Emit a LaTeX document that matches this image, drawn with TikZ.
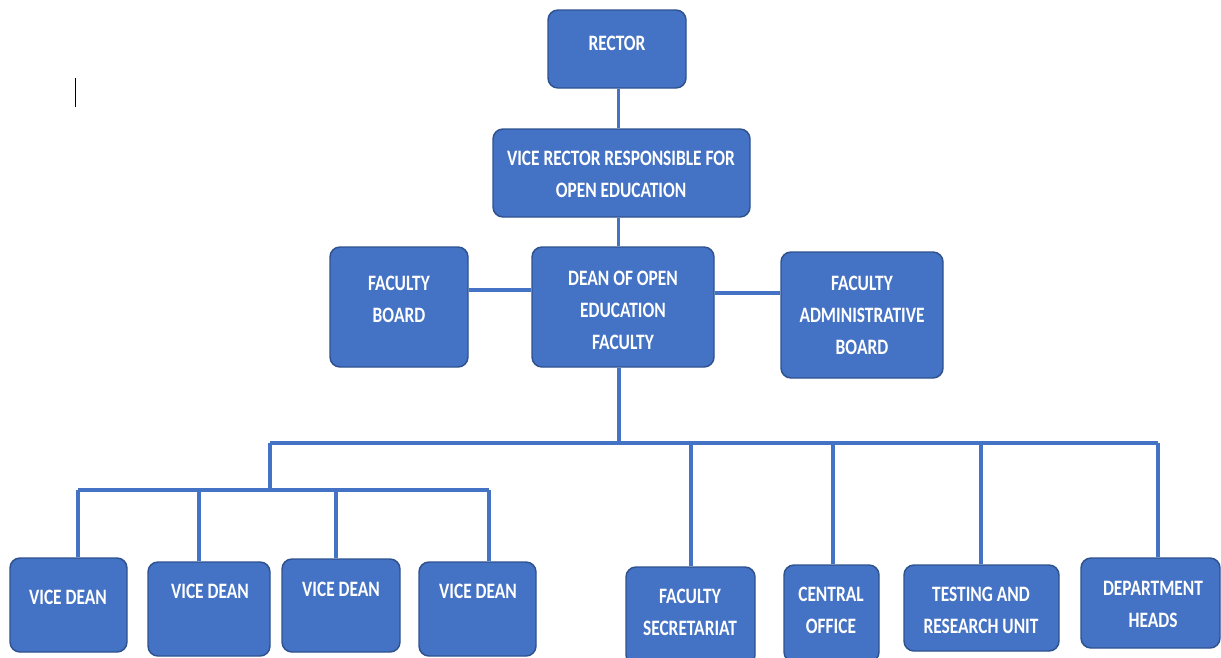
\documentclass[tikz,border=0pt]{standalone}
\usepackage{fontspec}
\setmainfont{Carlito}[FakeStretch=0.79]
\definecolor{fillblue}{HTML}{4472C4}
\definecolor{edgeblue}{HTML}{2F528F}
\pgfdeclarelayer{links}
\pgfsetlayers{links,main}
\tikzset{
  orgbox/.style={draw=edgeblue, line width=1.1pt, fill=fillblue,
    rounded corners=7.5pt, inner sep=0pt},
  orgtext/.style={text=white, font=\bfseries\fontsize{16.5}{24}\selectfont,
    align=center, inner sep=0pt},
  link/.style={draw=fillblue, line width=2.3pt},
}
% box: name, centre x, centre y, width, height (all in px units)
\newcommand{\orgunit}[5]{%
  \node[orgbox, minimum width=#4*0.75pt, minimum height=#5*0.75pt] (#1) at (#2,#3) {};}
\begin{document}
\begin{tikzpicture}[x=0.75pt, y=-0.75pt]
\useasboundingbox (0,0) rectangle (1221,657);
\clip (0,0) rectangle (1221,657);
\begin{pgfonlayer}{links}
\fill[white] (0,0) rectangle (1221,657);
\end{pgfonlayer}

% boxes
\orgunit{rector}{617}{49}{138}{78}
\orgunit{vr}{621.5}{173}{257}{88}
\orgunit{fb}{399}{307}{138}{120}
\orgunit{dean}{623}{307}{182}{120}
\orgunit{fab}{862}{315}{162}{126}
\orgunit{vd1}{68.5}{605}{117}{94}
\orgunit{vd2}{209}{609}{122}{94}
\orgunit{vd3}{341}{605.5}{118}{93}
\orgunit{vd4}{477.5}{609}{117}{94}
\orgunit{fs}{690.5}{616}{129}{98}
\orgunit{co}{831.5}{613.5}{95}{97}
\orgunit{tru}{981.5}{608}{155}{86}
\orgunit{dh}{1150.5}{603}{139}{90}

% junction points of the connector tree
\coordinate (spine) at (618.5,0);
\coordinate (lvl1) at (0,290);
\coordinate (lvl2) at (0,293);
\coordinate (hub) at (619,443);
\coordinate (busL) at (270,443);
\coordinate (busR) at (1158,443);
\coordinate (subL) at (78,490);
\coordinate (subR) at (489,490);
\coordinate (d2) at (199,490);
\coordinate (d3) at (336,490);
\coordinate (dfs) at (691,443);
\coordinate (dco) at (833,443);
\coordinate (dtru) at (981,443);

% connectors, kept behind the boxes
\begin{pgfonlayer}{links}
\draw[link] (spine |- rector.south) -- (spine |- vr.north);
\draw[link] (spine |- vr.south) -- (spine |- dean.north);
\draw[link] (fb.east |- lvl1) -- (dean.west |- lvl1);
\draw[link] (dean.east |- lvl2) -- (fab.west |- lvl2);
\draw[link] (hub |- dean.south) -- (hub);
\draw[link] (busL) -- (busR);
\draw[link] (busL) -- (busL |- subL);
\draw[link] (subL) -- (subR);
\draw[link] (subL) -- (subL |- vd1.north);
\draw[link] (d2) -- (d2 |- vd2.north);
\draw[link] (d3) -- (d3 |- vd3.north);
\draw[link] (subR) -- (subR |- vd4.north);
\draw[link] (dfs) -- (dfs |- fs.north);
\draw[link] (dco) -- (dco |- co.north);
\draw[link] (dtru) -- (dtru |- tru.north);
\draw[link] (busR) -- (busR |- dh.north);
\end{pgfonlayer}

% labels
\node[orgtext] (rectorT) at (617,43) {RECTOR};
\node[orgtext] (vrT) at (621,174.5) {VICE RECTOR RESPONSIBLE FOR\\OPEN EDUCATION};
\node[orgtext] (fbT) at (399,299) {FACULTY\\BOARD};
\node[orgtext] (deanT) at (623,310) {DEAN OF OPEN\\EDUCATION\\FACULTY};
\node[orgtext] (fabT) at (862,315) {FACULTY\\ADMINISTRATIVE\\BOARD};
\node[orgtext] (vd1T) at (68,597) {VICE DEAN};
\node[orgtext] (vd2T) at (210,591) {VICE DEAN};
\node[orgtext] (vd3T) at (341,589) {VICE DEAN};
\node[orgtext] (vd4T) at (478,591) {VICE DEAN};
\node[orgtext] (fsT) at (690,612) {FACULTY\\SECRETARIAT};
\node[orgtext] (coT) at (831,610) {CENTRAL\\OFFICE};
\node[orgtext] (truT) at (981,610) {TESTING AND\\RESEARCH UNIT};
\node[orgtext] (dhT) at (1153,604.5) {DEPARTMENT\\HEADS};

% text cursor mark
\coordinate (caretTop) at (75,78);
\coordinate (caretBot) at (75,107);
\draw[black, line width=0.6pt] (caretTop) -- (caretBot);
\end{tikzpicture}
\end{document}
